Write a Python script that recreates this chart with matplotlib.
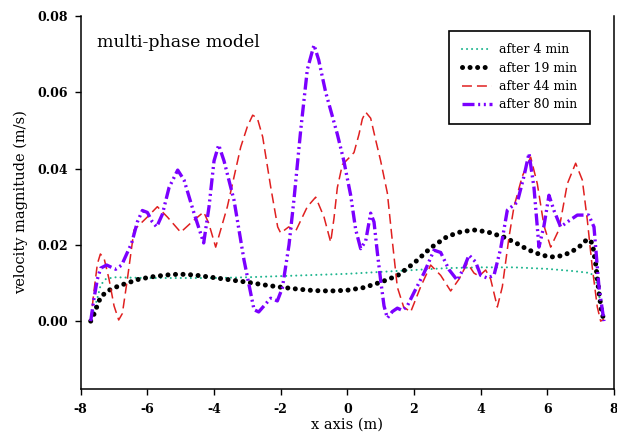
import matplotlib
matplotlib.use("Agg")
import matplotlib.pyplot as plt

# velocity magnitude, x in m, v in m/s
x_4 = [-7.7, -7.6, -7.5, -7.4, -7.25, -7.0, -6.5, -6.0, -5.0, -4.0, -3.0, -2.0, -1.0, 0.0,
       1.0, 2.0, 3.0, 4.0, 5.0, 6.0, 6.8, 7.3, 7.45, 7.55, 7.65, 7.7]
v_4 = [0.0, 0.003, 0.006, 0.0095, 0.011, 0.0115, 0.0114, 0.0113, 0.0113, 0.0113, 0.0115, 0.0118, 0.0121, 0.0124,
       0.0129, 0.0134, 0.0139, 0.0141, 0.0141, 0.0137, 0.0131, 0.0126, 0.011, 0.007, 0.002, 0.0]

x_19 = [-7.7, -7.58, -7.5, -7.4, -7.2, -6.95, -6.7, -6.25, -5.8, -5.3, -5.0, -4.6, -4.0, -3.5, -3.0,
        -2.5, -2.0, -1.5, -1.0, -0.5, 0.0, 0.5, 1.0, 1.5, 2.0, 2.5, 3.0, 3.4, 3.8, 4.2, 4.7, 5.1,
        5.4, 5.8, 6.1, 6.4, 6.7, 7.0, 7.2, 7.35, 7.45, 7.55, 7.62, 7.7]
v_19 = [0.0, 0.0022, 0.0042, 0.0063, 0.0079, 0.0089, 0.0097, 0.011, 0.0117, 0.0122, 0.0123, 0.0121, 0.0114,
        0.0108, 0.0102, 0.0095, 0.0089, 0.0084, 0.008, 0.0079, 0.0081, 0.0088, 0.0102, 0.0119, 0.0152,
        0.0192, 0.0222, 0.0234, 0.0239, 0.0234, 0.022, 0.0203, 0.0188, 0.0174, 0.0168, 0.0171, 0.018,
        0.0198, 0.0215, 0.0205, 0.015, 0.0075, 0.003, 0.0]

x_44 = [-7.7, -7.6, -7.5, -7.41, -7.3, -7.15, -7.0, -6.86, -6.75, -6.6, -6.4, -6.0, -5.7, -5.4, -5.0,
        -4.6, -4.31, -4.16, -3.95, -3.6, -3.2, -3.0, -2.84, -2.7, -2.54, -2.3, -2.09, -2.0, -1.76,
        -1.55, -1.2, -0.95, -0.7, -0.5, -0.4, -0.3, -0.15, 0.05, 0.2, 0.35, 0.45, 0.55, 0.7, 0.85,
        1.0, 1.2, 1.35, 1.5, 1.69, 1.9, 2.2, 2.5, 2.8, 3.1, 3.35, 3.6, 3.8, 3.95, 4.15, 4.3, 4.5,
        4.65, 4.85, 5.0, 5.25, 5.5, 5.7, 5.9, 6.1, 6.35, 6.6, 6.85, 7.05, 7.2, 7.35, 7.5, 7.6, 7.7]
v_44 = [0.0, 0.008, 0.015, 0.0176, 0.0165, 0.011, 0.004, 0.0003, 0.002, 0.011, 0.0239, 0.0273, 0.03,
        0.0273, 0.0233, 0.0265, 0.0286, 0.0257, 0.0194, 0.03, 0.0456, 0.051, 0.054, 0.0532, 0.0483,
        0.0352, 0.0247, 0.0231, 0.0247, 0.0236, 0.03, 0.0325, 0.0273, 0.0207, 0.027, 0.035, 0.041,
        0.0428, 0.0442, 0.049, 0.053, 0.0548, 0.0532, 0.0475, 0.042, 0.0336, 0.021, 0.0089, 0.0037,
        0.0024, 0.009, 0.0147, 0.012, 0.0079, 0.011, 0.0152, 0.0126, 0.0118, 0.0134, 0.011, 0.0037,
        0.009, 0.022, 0.03, 0.038, 0.043, 0.036, 0.025, 0.0194, 0.024, 0.036, 0.0414, 0.037, 0.0265,
        0.014, 0.0037, 0.0, 0.0005]

x_80 = [-7.7, -7.6, -7.5, -7.4, -7.22, -7.1, -6.95, -6.77, -6.6, -6.47, -6.3, -6.15, -6.0, -5.85,
        -5.72, -5.55, -5.35, -5.09, -4.9, -4.6, -4.31, -4.15, -4.0, -3.86, -3.7, -3.4, -3.1, -2.8,
        -2.66, -2.5, -2.3, -2.1, -1.95, -1.75, -1.6, -1.4, -1.2, -1.0, -0.86, -0.65, -0.5, -0.3,
        -0.11, 0.1, 0.25, 0.4, 0.55, 0.7, 0.8, 0.9, 1.0, 1.1, 1.2, 1.35, 1.5, 1.65, 1.8, 2.0, 2.3,
        2.6, 2.8, 3.05, 3.3, 3.5, 3.65, 3.85, 4.0, 4.2, 4.4, 4.6, 4.8, 5.1, 5.3, 5.45, 5.6, 5.75,
        5.9, 6.05, 6.2, 6.4, 6.6, 6.9, 7.24, 7.4, 7.55, 7.7]
v_80 = [0.0, 0.006, 0.011, 0.0139, 0.0147, 0.0142, 0.0136, 0.0147, 0.018, 0.0205, 0.026, 0.029, 0.0285,
        0.026, 0.0247, 0.028, 0.035, 0.0396, 0.037, 0.0283, 0.0205, 0.03, 0.042, 0.0462, 0.042, 0.0317,
        0.016, 0.003, 0.0024, 0.004, 0.006, 0.0053, 0.0087, 0.02, 0.032, 0.05, 0.066, 0.0724, 0.0685,
        0.06, 0.0553, 0.049, 0.0422, 0.033, 0.024, 0.019, 0.021, 0.0283, 0.026, 0.018, 0.0107, 0.004,
        0.0008, 0.0025, 0.0034, 0.0028, 0.004, 0.0075, 0.0126, 0.0186, 0.018, 0.0135, 0.0107, 0.014,
        0.0173, 0.0155, 0.012, 0.0113, 0.012, 0.019, 0.0291, 0.0312, 0.038, 0.044, 0.035, 0.0194,
        0.025, 0.033, 0.029, 0.0247, 0.026, 0.0278, 0.0278, 0.0247, 0.0089, 0.0]

labels = ["after 4 min", "after 19 min", "after 44 min", "after 80 min"]
xticks = [-8, -6, -4, -2, 0, 2, 4, 6, 8]
yticks = [0.00, 0.02, 0.04, 0.06, 0.08]

plt.rcParams["font.family"] = ["DejaVu Serif"]

fig = plt.figure(figsize=(6.17, 4.42), dpi=100)
ax = fig.add_axes([0.1308, 0.1199, 0.8643, 0.8439])

ax.plot(x_4, v_4, color="#1db58e", lw=1.5, dashes=(0.01, 2.4), dash_capstyle="round", label=labels[0])
ax.plot(x_19, v_19, color="black", lw=3.6, dashes=(0.01, 1.5), dash_capstyle="round", label=labels[1])
ax.plot(x_44, v_44, color="#e02020", lw=1.1, dashes=(6.5, 3.3), label=labels[2])
ax.plot(x_80, v_80, color="#7b00ff", lw=2.4, dashes=(3.6, 1.1, 0.6, 1.1, 0.6, 1.1), label=labels[3])

ax.set_xlim(-8, 8)
ax.set_ylim(-0.0178, 0.08)
ax.set_xticks(xticks)
ax.set_yticks(yticks)
ax.set_xticklabels([str(t) for t in xticks], fontweight="bold", fontsize=9)
ax.set_yticklabels([f"{t:.2f}" for t in yticks], fontweight="bold", fontsize=9)
ax.tick_params(direction="out", length=4, width=1, pad=5)
ax.tick_params(axis="x", pad=6)
ax.spines["top"].set_visible(False)
for s in ["left", "bottom", "right"]:
    ax.spines[s].set_linewidth(1.1)

ax.set_xlabel("x axis (m)", fontsize=10.5, labelpad=1)
ax.set_ylabel("velocity magnitude (m/s)", fontsize=10.5, labelpad=7)

ax.text(0.031, 0.928, "multi-phase model", transform=ax.transAxes, fontsize=12.5, va="center")

leg = ax.legend(loc="upper right", bbox_to_anchor=(0.955, 0.96), borderaxespad=0, fontsize=9,
                handlelength=2.4, handletextpad=0.6, labelspacing=0.42, borderpad=1.0,
                fancybox=False, framealpha=1, edgecolor="black")
leg.get_frame().set_linewidth(1.2)

fig.savefig("out.png", dpi=100)
